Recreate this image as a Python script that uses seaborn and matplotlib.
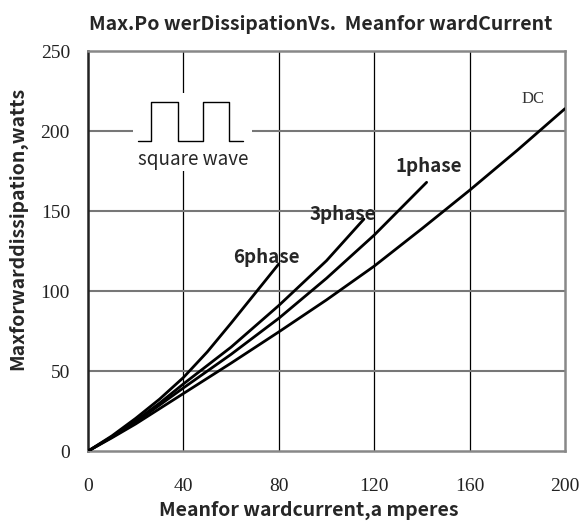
import pandas as pd
import seaborn as sns
import matplotlib.pyplot as plt
from matplotlib.patches import Rectangle

# values
x_6phase = [0, 10, 20, 30, 40, 50, 60, 70, 80]
y_6phase = [0, 9.5, 20.5, 32.5, 46, 62, 80, 98.5, 117]

x_3phase = [0, 10, 20, 30, 40, 60, 80, 100, 115.7]
y_3phase = [0, 9, 19, 30, 42, 65, 91, 119, 145]

x_1phase = [0, 10, 20, 40, 60, 80, 100, 120, 142]
y_1phase = [0, 8.7, 18, 39.5, 60.5, 83, 108, 135, 168]

x_dc = [0, 10, 20, 40, 60, 80, 100, 120, 140, 160, 180, 200]
y_dc = [0, 8.3, 17, 36, 55, 74.5, 94.5, 115.6, 139, 163, 188, 214]

# square wave icon
wave_x = [21, 26.5, 26.5, 37.8, 37.8, 48.3, 48.3, 59.2, 59.2, 65.1]
wave_y = [193.8, 193.8, 218, 218, 193.8, 193.8, 218, 218, 193.8, 193.8]

xticks = [0, 40, 80, 120, 160, 200]
yticks = [0, 50, 100, 150, 200, 250]

rows = []
for name, xs, ys in [("6phase", x_6phase, y_6phase), ("3phase", x_3phase, y_3phase),
                     ("1phase", x_1phase, y_1phase), ("DC", x_dc, y_dc)]:
    for a, b in zip(xs, ys):
        rows.append({"current": a, "watts": b, "curve": name})
df = pd.DataFrame(rows)

sns.set_style("white")
fig = plt.figure(figsize=(5.83, 5.27), dpi=100)
ax = fig.add_axes([0.151, 0.144, 0.818, 0.759])

ax.set_xlim(0, 200)
ax.set_ylim(0, 250)
ax.set_xticks(xticks)
ax.set_yticks(yticks)
for v in xticks[1:-1]:
    ax.axvline(v, color="black", lw=0.9, zorder=1)
for v in yticks[1:-1]:
    ax.axhline(v, color="#777777", lw=1.5, zorder=1)

sns.lineplot(data=df, x="current", y="watts", hue="curve", sort=False,
             palette=["black"] * 4, lw=2, legend=False, ax=ax, zorder=3)

# white box behind the square wave
ax.add_patch(Rectangle((18.9, 175), 50, 48.8, facecolor="white", edgecolor="none", zorder=2))
ax.plot(wave_x, wave_y, color="black", lw=1, zorder=3)

sans = "Noto Sans CJK SC"
ax.text(44, 182, "square wave", ha="center", va="center", fontsize=13.5,
        family=sans, zorder=4)

lab = dict(ha="center", va="center", fontsize=13.5, fontweight="bold", family=sans, zorder=4)
ax.text(74.8, 121, "6phase", **lab)
ax.text(107, 148, "3phase", **lab)
ax.text(143, 178, "1phase", **lab)
ax.text(186.5, 220, "DC", ha="center", va="center", fontsize=12, family="Liberation Serif",
        color="#333333", zorder=4)

for s in ["top", "right", "bottom"]:
    ax.spines[s].set_color("#888888")
    ax.spines[s].set_linewidth(1.8)
ax.spines["left"].set_color("#222222")
ax.spines["left"].set_linewidth(1.8)

ax.tick_params(axis="x", length=0, labelsize=14, pad=19, colors="#222222")
ax.tick_params(axis="y", length=0, labelsize=14, pad=13, colors="#222222")
for t in ax.get_xticklabels() + ax.get_yticklabels():
    t.set_family("Liberation Serif")

ax.set_xlabel("Meanfor wardcurrent,a mperes", fontsize=14, fontweight="bold", family=sans)
ax.set_ylabel("Maxforwarddissipation,watts", fontsize=14, fontweight="bold", family=sans)
ax.xaxis.set_label_coords(0.463, -0.125)
ax.yaxis.set_label_coords(-0.128, 0.557)
ax.set_title("Max.Po werDissipationVs.  Meanfor wardCurrent", fontsize=14,
             fontweight="bold", family=sans, pad=15, x=0.487)

fig.savefig("out.png", dpi=100)
